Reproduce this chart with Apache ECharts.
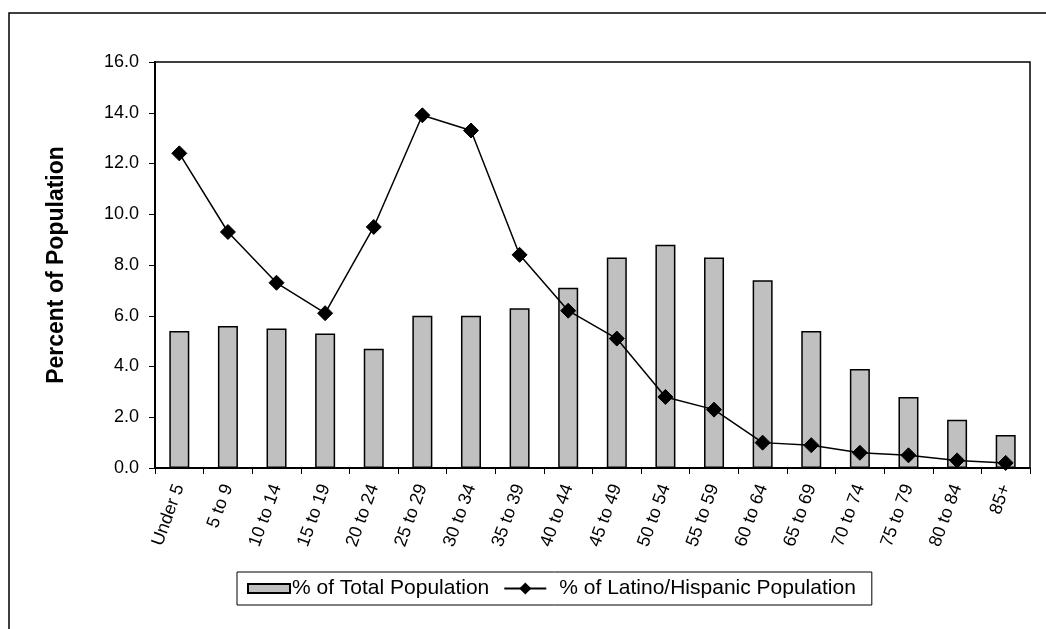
<!DOCTYPE html>
<html>
<head>
<meta charset="utf-8">
<script src="https://cdn.jsdelivr.net/npm/echarts@6/dist/echarts.min.js"></script>
<style>
html,body{margin:0;padding:0;background:#fff;}
#chart{width:1046px;height:629px;}
</style>
</head>
<body>
<div id="chart"></div>
<script>
const categories = ["Under 5","5 to 9","10 to 14","15 to 19","20 to 24","25 to 29","30 to 34","35 to 39","40 to 44","45 to 49","50 to 54","55 to 59","60 to 64","65 to 69","70 to 74","75 to 79","80 to 84","85+"];
const totalPopulation = [5.4,5.6,5.5,5.3,4.7,6.0,6.0,6.3,7.1,8.3,8.8,8.3,7.4,5.4,3.9,2.8,1.9,1.3];
const latinoPopulation = [12.4,9.3,7.3,6.1,9.5,13.9,13.3,8.4,6.2,5.1,2.8,2.3,1.0,0.9,0.6,0.5,0.3,0.2];
const seriesNames = ["% of Total Population","% of Latino/Hispanic Population"];
const yAxisTitle = "Percent of Population";

const font = "Arial, 'Liberation Sans', sans-serif";
const chart = echarts.init(document.getElementById('chart'), null, {renderer:'canvas'});
chart.setOption({
  animation:false,
  backgroundColor:'#fff',
  textStyle:{fontFamily:font},
  grid:{left:155,right:16,top:62,bottom:161,show:true,borderColor:'#000',borderWidth:1.5,backgroundColor:'transparent'},
  graphic:[
    {type:'polyline',shape:{points:[[9,629],[9,13],[1046,13]]},style:{stroke:'#000',lineWidth:1.5,fill:null},silent:true}
  ],
  legend:{
    left:237, top:572,
    padding:[6,16,6,10],
    itemGap:14,
    itemWidth:42, itemHeight:15,
    borderColor:'#000', borderWidth:1,
    textStyle:{fontSize:21,color:'#000',fontFamily:font,padding:[0,0,0,-3]},
    data:[
      {name:seriesNames[0],icon:'path://M0,0L42,0L42,9L0,9Z'},
      {name:seriesNames[1],textStyle:{padding:[0,0,0,8]}}
    ]
  },
  xAxis:{
    type:'category',
    data:categories,
    boundaryGap:true,
    axisLine:{lineStyle:{color:'#000',width:2}},
    axisTick:{show:true,length:6,lineStyle:{color:'#000',width:1}},
    axisLabel:{rotate:70,fontSize:18,color:'#000',margin:17,fontFamily:font,interval:0}
  },
  yAxis:{
    type:'value',
    min:0,max:16,interval:2,
    name:yAxisTitle,
    nameLocation:'middle',
    nameRotate:90,
    nameGap:87,
    nameTextStyle:{fontSize:23,fontWeight:'bold',color:'#000',fontFamily:font},
    axisLine:{show:true,lineStyle:{color:'#000',width:2}},
    axisTick:{show:true,length:6,lineStyle:{color:'#000',width:1}},
    axisLabel:{fontSize:18,color:'#000',margin:16,fontFamily:font,formatter:v=>v.toFixed(1)},
    splitLine:{show:false}
  },
  series:[
    {
      name:seriesNames[0],
      type:'bar',
      data:totalPopulation,
      barWidth:20,
      itemStyle:{color:'#c0c0c0',borderColor:'#000',borderWidth:1.5}
    },
    {
      name:seriesNames[1],
      type:'line',
      data:latinoPopulation,
      symbol:'diamond',
      symbolSize:15,
      lineStyle:{color:'#000',width:1.5},
      itemStyle:{color:'#000',borderColor:'#000'}
    }
  ]
});
</script>
</body>
</html>
